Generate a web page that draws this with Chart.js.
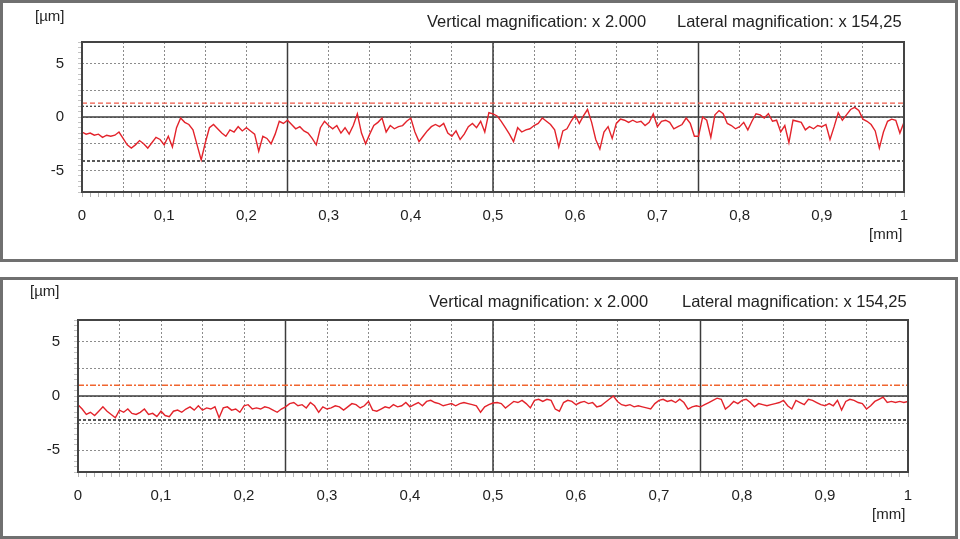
<!DOCTYPE html>
<html>
<head>
<meta charset="utf-8">
<script src="https://cdn.jsdelivr.net/npm/chart.js@4.4.0/dist/chart.umd.min.js"></script>
<style>
body { margin: 0; background: #fff; width: 960px; height: 539px; position: relative; overflow: hidden; font-family: "Liberation Sans", Arial, sans-serif; color: #222; }
.panel { position: absolute; left: 0; width: 958px; height: 262px; box-sizing: border-box; border: 3px solid #707070; }
canvas { position: absolute; left: 0; }
.txt { position: absolute; white-space: nowrap; line-height: 1; }
</style>
</head>
<body>
<div class="panel" style="top:0"></div>
<div class="panel" style="top:277px"></div>
<canvas id="topChart" width="958" height="262" style="top:0"></canvas>
<canvas id="bottomChart" width="958" height="262" style="top:277px"></canvas>

<div class="txt" style="left:35px;top:8px;font-size:15px">[µm]</div>
<div class="txt" style="left:427px;top:13px;font-size:16.5px">Vertical magnification: x 2.000</div>
<div class="txt" style="left:677px;top:13px;font-size:16.5px">Lateral magnification: x 154,25</div>
<div class="txt" style="left:869px;top:226px;font-size:15px">[mm]</div>

<div class="txt" style="left:30px;top:283px;font-size:15px">[µm]</div>
<div class="txt" style="left:429px;top:293px;font-size:16.5px">Vertical magnification: x 2.000</div>
<div class="txt" style="left:682px;top:293px;font-size:16.5px">Lateral magnification: x 154,25</div>
<div class="txt" style="left:872px;top:506px;font-size:15px">[mm]</div>

<script>
// profile heights in µm, one value every 0.005 mm from 0 to 1 mm
const sampleStep = 0.005;

const topProfile = [
    -1.4, -1.6, -1.5, -1.7, -1.6, -1.9, -1.7, -1.8, -1.7, -1.4, -2.0,
    -2.6, -2.9, -2.6, -2.2, -2.5, -2.9, -2.4, -1.9, -2.1, -2.6,
    -1.8, -2.8, -1.0, -0.1, -0.5, -0.7, -1.2, -2.6, -4.0, -2.4,
    -1.0, -0.7, -1.1, -1.5, -1.8, -1.2, -1.4, -0.9, -1.3, -1.0,
    -1.3, -1.6, -3.2, -1.8, -2.0, -2.5, -1.6, -0.4, -0.6, -0.3,
    -0.7, -1.1, -0.9, -1.3, -1.5, -2.0, -2.6, -1.0, -0.4, -0.8,
    -1.1, -0.8, -1.5, -1.0, -1.6, -0.8, 0.3, -1.5, -2.5, -1.6,
    -0.8, -0.5, -0.1, -1.4, -0.8, -1.1, -0.9, -0.8, -0.4, -0.1,
    -1.4, -2.3, -1.8, -1.3, -0.9, -0.7, -0.9, -0.6, -1.5, -1.8,
    -1.3, -2.1, -1.6, -0.9, -0.6, -1.0, -0.4, -1.4, 0.4, 0.3,
    0.1, -0.4, -1.0, -1.6, -2.3, -1.0, -1.4, -1.2, -1.1, -0.8,
    -0.6, -0.1, -0.4, -0.7, -1.2, -2.8, -1.3, -1.1, -0.4, 0.2,
    -0.6, 0.1, 0.7, -0.5, -2.1, -3.0, -1.4, -0.9, -2.0, -0.6,
    -0.2, -0.3, -0.5, -0.3, -0.5, -0.4, -0.8, -0.5, 0.3, -0.9,
    -0.4, -0.3, -0.5, -1.1, -0.9, -0.7, -0.1, -0.6, -1.8, -1.8,
    0.0, -0.3, -1.9, 0.2, 0.6, 0.3, -0.6, -0.8, -1.1, -0.9,
    -0.5, -1.2, -0.4, 0.3, 0.2, -0.1, 0.3, -0.4, -0.3, -1.4,
    -0.8, -2.4, -0.3, -0.4, -0.5, -1.2, -0.9, -1.1, -0.8, -0.9,
    -0.7, -2.1, -0.9, 0.4, -0.3, 0.2, 0.7, 0.9, 0.6, -0.2,
    -0.4, -0.7, -1.3, -2.9, -1.4, -0.4, -0.2, -0.3, -1.5, -0.5
];

const bottomProfile = [
    -0.8, -1.2, -1.7, -1.5, -1.8, -1.4, -1.0, -1.4, -1.7, -2.0, -1.3,
    -1.5, -1.2, -1.6, -1.7, -1.5, -1.2, -1.7, -1.6, -1.9, -1.4,
    -1.8, -1.9, -1.4, -1.3, -1.5, -1.2, -1.0, -1.3, -0.9, -1.3,
    -1.1, -1.2, -1.0, -2.0, -1.1, -1.0, -1.3, -1.2, -1.5, -0.9,
    -0.8, -1.2, -1.1, -1.2, -1.0, -1.1, -1.3, -1.5, -1.2, -1.0,
    -0.7, -0.6, -0.9, -0.8, -1.1, -0.6, -0.9, -1.5, -1.0, -1.2,
    -1.1, -0.9, -1.0, -1.3, -1.0, -0.7, -0.8, -1.1, -0.9, -0.5,
    -1.3, -1.4, -1.2, -1.0, -1.1, -0.8, -1.0, -0.9, -0.6, -1.0,
    -0.8, -0.6, -0.9, -0.5, -0.4, -0.6, -0.7, -0.9, -0.8, -0.7,
    -0.9, -0.7, -0.6, -0.7, -0.8, -0.9, -1.5, -1.0, -0.8, -0.65,
    -0.6, -0.7, -1.1, -0.8, -0.5, -0.6, -0.4, -0.7, -1.1, -0.4,
    -0.3, -0.5, -0.3, -0.4, -1.2, -1.4, -0.6, -0.4, -0.5, -0.8,
    -0.6, -0.5, -0.7, -0.6, -1.0, -0.9, -0.6, -0.3, 0.0, -0.5,
    -0.8, -0.9, -0.8, -1.0, -0.9, -1.0, -1.1, -1.2, -0.7, -0.4,
    -0.3, -0.5, -0.4, -0.6, -0.3, -0.6, -1.2, -1.0, -0.9, -1.0,
    -0.8, -0.6, -0.4, -0.2, -0.3, -1.2, -0.9, -0.5, -0.7, -0.4,
    -0.3, -0.6, -1.0, -0.7, -0.8, -0.9, -0.8, -0.7, -0.6, -0.4,
    -0.9, -1.2, -0.4, -0.6, -0.8, -0.3, -0.4, -0.6, -0.8, -0.9,
    -0.7, -0.9, -0.4, -1.3, -0.5, -0.3, -0.4, -0.6, -0.7, -1.2,
    -0.9, -0.5, -0.3, -0.1, -0.6, -0.5, -0.6, -0.5, -0.6, -0.5
];

// limit lines (µm)
const topLimits = [1.3, 1.0, -4.1];
const bottomLimits = [1.0, -2.2];

const xTickLabels = ["0", "0,1", "0,2", "0,3", "0,4", "0,5", "0,6", "0,7", "0,8", "0,9", "1"];
const yTickLabels = [-5, 0, 5];
const majorX = [0.25, 0.5, 0.75];
const majorY = [0];

function isMultiple(v, step) {
    return Math.abs(v / step - Math.round(v / step)) < 1e-6;
}

function tickRange(from, to, step) {
    const out = [];
    const n = Math.round((to - from) / step);
    for (let i = 0; i <= n; i++) out.push(+(from + i * step).toFixed(4));
    return out;
}

const xMinor = tickRange(0, 1, 0.01);
const yMinor = tickRange(-7, 7, 0.5);

// solid axis lines at 0.25 mm steps and zero, plus the box round the plot
const framePlugin = {
    id: "frame",
    beforeDatasetsDraw(chart) {
        const { ctx, chartArea: a, scales } = chart;
        ctx.save();
        ctx.strokeStyle = "#3c3c3c";
        ctx.lineWidth = 1.5;
        majorX.forEach(v => {
            const px = scales.x.getPixelForValue(v);
            ctx.beginPath();
            ctx.moveTo(px, a.top);
            ctx.lineTo(px, a.bottom);
            ctx.stroke();
        });
        majorY.forEach(v => {
            const py = scales.y.getPixelForValue(v);
            ctx.beginPath();
            ctx.moveTo(a.left, py);
            ctx.lineTo(a.right, py);
            ctx.stroke();
        });
        ctx.restore();
    },
    afterDatasetsDraw(chart) {
        const { ctx, chartArea: a } = chart;
        ctx.save();
        ctx.strokeStyle = "#444";
        ctx.lineWidth = 2;
        ctx.strokeRect(a.left, a.top, a.right - a.left, a.bottom - a.top);
        ctx.restore();
    }
};

function makeChart(id, profile, limits, box) {
    const datasets = [{
        data: profile.map((v, i) => ({ x: i * sampleStep, y: v })),
        borderColor: "#e3232b",
        borderWidth: 1.4,
        pointRadius: 0,
        tension: 0
    }];
    limits.forEach((value, k) => {
        datasets.push({
            data: [{ x: 0, y: value }, { x: 1, y: value }],
            borderColor: box.limitStyles[k].color,
            borderDash: box.limitStyles[k].dash,
            borderWidth: box.limitStyles[k].width,
            pointRadius: 0
        });
    });

    return new Chart(document.getElementById(id), {
        type: "line",
        data: { datasets },
        options: {
            responsive: false,
            animation: false,
            events: [],
            layout: { padding: { left: 0, top: box.top, right: box.right, bottom: 0 } },
            plugins: { legend: { display: false }, tooltip: { enabled: false } },
            scales: {
                x: {
                    type: "linear",
                    min: 0,
                    max: 1,
                    afterBuildTicks: s => { s.ticks = xMinor.map(v => ({ value: v })); },
                    afterFit: s => { s.height = box.xAxisHeight; },
                    grid: {
                        color: c => (c.tick && isMultiple(c.tick.value, 0.05)) ? "#8c8c8c" : "rgba(0,0,0,0)",
                        tickColor: "#b4b4b4",
                        tickLength: 5,
                        lineWidth: 1
                    },
                    border: { display: false, dash: [2, 2] },
                    ticks: {
                        autoSkip: false,
                        maxRotation: 0,
                        padding: 10,
                        color: "#222",
                        font: { size: 15 },
                        callback: v => isMultiple(v, 0.1) ? xTickLabels[Math.round(v * 10)] : ""
                    }
                },
                y: {
                    min: -7,
                    max: 7,
                    afterBuildTicks: s => { s.ticks = yMinor.map(v => ({ value: v })); },
                    afterFit: s => { s.width = box.yAxisWidth; },
                    grid: {
                        color: c => (c.tick && isMultiple(c.tick.value, 2.5)) ? "#8c8c8c" : "rgba(0,0,0,0)",
                        tickColor: "#c4c4c4",
                        tickLength: 4,
                        lineWidth: 1
                    },
                    border: { display: false, dash: [2, 2] },
                    ticks: {
                        autoSkip: false,
                        padding: 14,
                        color: "#222",
                        font: { size: 15 },
                        callback: v => yTickLabels.includes(v) ? String(v) : ""
                    }
                }
            }
        },
        plugins: [framePlugin]
    });
}

Chart.defaults.font.family = "'Liberation Sans', Arial, sans-serif";

makeChart("topChart", topProfile, topLimits, {
    top: 42, right: 54, yAxisWidth: 82, xAxisHeight: 70,
    limitStyles: [
        { color: "#ee5a48", dash: [5, 3], width: 1.2 },
        { color: "#333", dash: [2, 2], width: 1.2 },
        { color: "#222", dash: [3, 2], width: 1.5 }
    ]
});

makeChart("bottomChart", bottomProfile, bottomLimits, {
    top: 43, right: 50, yAxisWidth: 78, xAxisHeight: 67,
    limitStyles: [
        { color: "#f0652f", dash: [6, 2, 2, 2], width: 1.5 },
        { color: "#222", dash: [3, 2], width: 1.5 }
    ]
});
</script>
</body>
</html>
